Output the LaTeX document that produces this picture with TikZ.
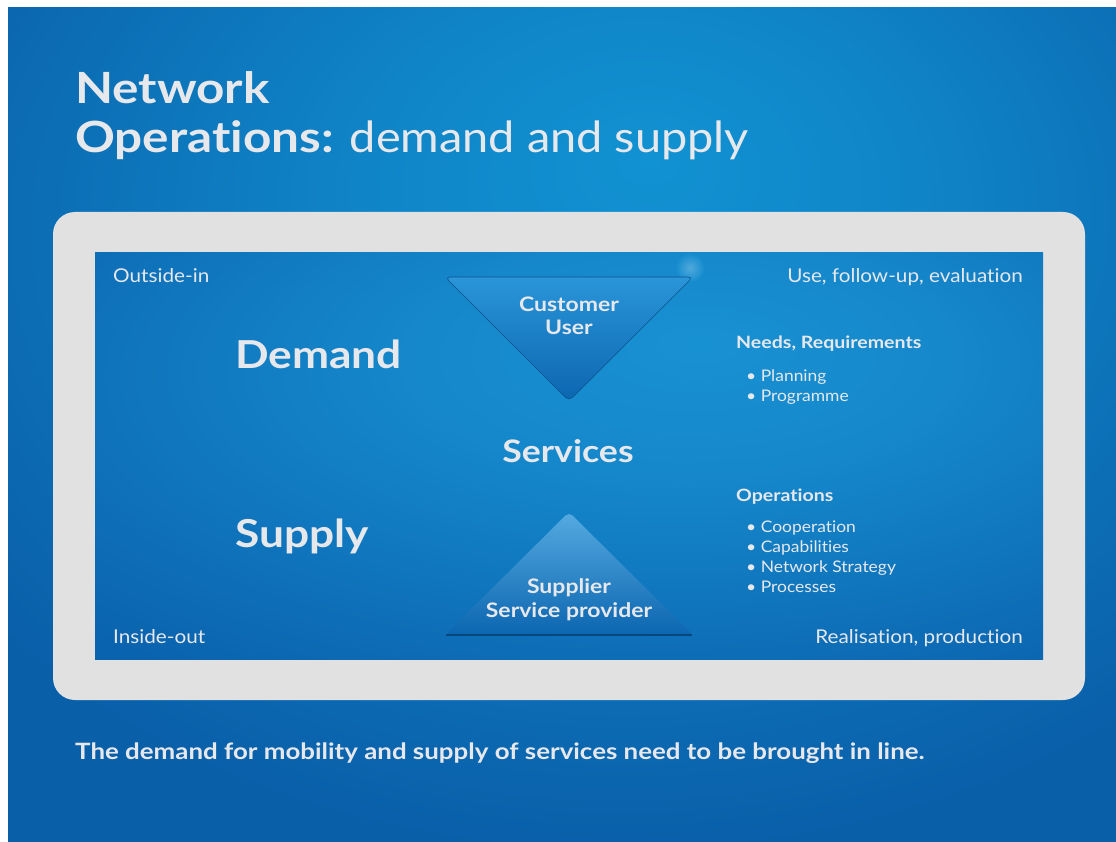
\documentclass[tikz,border=0pt]{standalone}
\usepackage{fontspec}
\setmainfont{Lato}[FakeStretch=1.09,Ligatures=CommonOff,
  BoldFeatures={FakeStretch=1.15}]
\definecolor{bgdark}{HTML}{0A5FA9}
\definecolor{bglight}{HTML}{1192D2}
\definecolor{framegray}{HTML}{E1E1E1}
\definecolor{paneldark}{HTML}{0A63AE}
\definecolor{panellight}{HTML}{1891D2}
\definecolor{textgray}{HTML}{E6E8EC}
\definecolor{tritop}{HTML}{2A95D8}
\definecolor{tribot}{HTML}{0C66B0}
\pgfdeclareradialshading{bgglow}{\pgfpoint{4bp}{16bp}}%
  {color(0bp)=(bglight); color(12bp)=(bglight!75!bgdark); color(36bp)=(bgdark); color(100bp)=(bgdark)}
\pgfdeclareradialshading{panelglow}{\pgfpoint{7bp}{14bp}}%
  {color(0bp)=(panellight); color(14bp)=(panellight!80!paneldark); color(42bp)=(paneldark); color(100bp)=(paneldark)}
\begin{document}
\begin{tikzpicture}[x=1pt,y=-1pt,
  txt/.style={text=textgray,inner sep=0pt,anchor=base west},
  txtr/.style={txt,anchor=base east},
  txtc/.style={txt,anchor=base,align=center}]
\useasboundingbox (0,0) rectangle (1116,842);
\fill[white] (0,0) rectangle (1116,842);

% background
\shade[shading=bgglow] (8,8) rectangle (1116,842);

% title
\node[txt,font=\fontsize{43}{43}\selectfont\bfseries] (title1) at (75,104) {Network};
\node[txt,font=\fontsize{43}{43}\selectfont] (title2) at (75,153) {\textbf{Operations:} demand and supply};

% frame and panel
\fill[framegray,rounded corners=22] (53,212) rectangle (1085,700);
\shade[shading=panelglow] (95,253) rectangle (1043,659);
\shade[inner color=white!50!panellight,outer color=panellight,opacity=0.5] (690,268) circle (14);

% corner labels
\node[txt,font=\fontsize{19}{19}\selectfont] (outin) at (113,283) {Outside-in};
\node[txtr,font=\fontsize{19}{19}\selectfont] (use) at (1023,283) {Use, follow-up, evaluation};
\node[txt,font=\fontsize{19}{19}\selectfont] (inout) at (113,643) {Inside-out};
\node[txtr,font=\fontsize{19}{19}\selectfont] (real) at (1023,643) {Realisation, production};

% triangles
\shade[top color=tritop,bottom color=tribot,rounded corners=5,draw=tribot!80!black,line width=0.6]
  (445,277) -- (693,277) -- (569,401) -- cycle;
\shade[top color=tritop!80!white,bottom color=tribot,rounded corners=5]
  (569,512) -- (693,635) -- (445,635) -- cycle;
\draw[tribot!70!black,line width=1.2] (446,635) -- (692,635);

\node[txtc,font=\fontsize{20}{20}\selectfont\bfseries] (cust) at (569,312) {Customer};
\node[txtc,font=\fontsize{20}{20}\selectfont\bfseries] (user) at (569,334) {User};
\node[txtc,font=\fontsize{20}{20}\selectfont\bfseries] (supl) at (569,593) {Supplier};
\node[txtc,font=\fontsize{20}{20}\selectfont\bfseries] (prov) at (569,617) {Service provider};

% big words
\node[txt,font=\fontsize{38.5}{38.5}\selectfont\bfseries] (demand) at (235,368) {Demand};
\node[txt,font=\fontsize{38.5}{38.5}\selectfont\bfseries] (supply) at (235,547) {Supply};
\node[txtc,font=\fontsize{31}{31}\selectfont\bfseries] (serv) at (568,462) {Services};

% right lists
\node[txt,font=\fontsize{17}{17}\selectfont\bfseries] (needs) at (736,348) {Needs, Requirements};
\node[txt,font=\fontsize{16}{16}\selectfont] (plan) at (746,381) {\textbullet\ Planning};
\node[txt,font=\fontsize{16}{16}\selectfont] (prog) at (746,401) {\textbullet\ Programme};
\node[txt,font=\fontsize{17}{17}\selectfont\bfseries] (ops) at (736,501) {Operations};
\node[txt,font=\fontsize{16}{16}\selectfont] (coop) at (746,532) {\textbullet\ Cooperation};
\node[txt,font=\fontsize{16}{16}\selectfont] (capa) at (746,552) {\textbullet\ Capabilities};
\node[txt,font=\fontsize{16}{16}\selectfont] (strat) at (746,572) {\textbullet\ Network Strategy};
\node[txt,font=\fontsize{16}{16}\selectfont] (proc) at (746,592) {\textbullet\ Processes};

% footer
\node[txt,font=\fontsize{22.5}{22.5}\selectfont\bfseries] (foot) at (75,759)
  {The demand for mobility and supply of services need to be brought in line.};
\end{tikzpicture}
\end{document}
